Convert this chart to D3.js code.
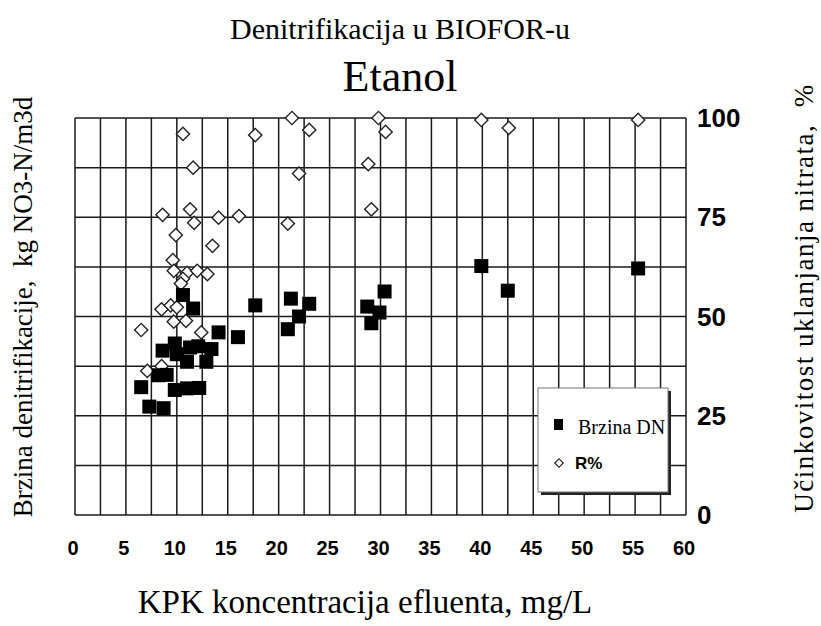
<!DOCTYPE html>
<html>
<head>
<meta charset="utf-8">
<script src="https://cdn.jsdelivr.net/npm/d3@7"></script>
<style>
  body { margin: 0; background: #fff; }
  svg { display: block; }
</style>
</head>
<body>
<script>
// KPK (x) and removal efficiency R% (diamonds, right axis)
const rX = [10.6, 11.6, 17.7, 21.3, 23.0, 22.0, 29.8, 30.5, 28.8, 29.1, 20.9, 39.9, 42.6, 55.3,
  8.6, 11.3, 11.7, 14.1, 16.1, 9.9, 13.5, 9.6, 9.7, 11.0, 12.0, 13.0, 10.6, 10.4,
  8.5, 9.4, 10.0, 9.7, 10.9, 6.5, 12.4, 7.1, 8.5];
const rY = [96, 87.5, 95.7, 100, 97, 86, 100, 96.5, 88.4, 77, 73.4, 99.5, 97.5, 99.5,
  75.6, 77, 73.6, 74.9, 75.3, 70.5, 67.8, 64.2, 61.5, 61, 61.5, 60.7, 59.5, 58.3,
  51.8, 52.8, 52.3, 48.7, 48.9, 46.6, 46, 36.3, 37.5];

// KPK (x) and denitrification rate (filled squares, same grid)
const dnX = [10.6, 11.6, 17.7, 21.2, 23.0, 22.0, 20.9, 28.7, 29.9, 29.1, 30.4, 39.9, 42.5, 55.3,
  14.1, 16.0, 9.8, 8.6, 10.0, 11.3, 12.1, 13.4, 12.9, 11.0, 9.0, 8.2, 6.5, 9.8, 11.0, 12.2, 7.3, 8.7];
const dnY = [55.4, 52, 52.8, 54.5, 53.2, 50, 46.8, 52.5, 51, 48.3, 56.3, 62.7, 56.5, 62.1,
  46, 44.8, 43.2, 41.4, 40.5, 42.2, 42.5, 41.8, 38.6, 38.6, 35.3, 35.2, 32.2, 31.5, 31.9, 32, 27.3, 26.9];

const xTicks = [0, 5, 10, 15, 20, 25, 30, 35, 40, 45, 50, 55, 60];
const yTicks = [0, 25, 50, 75, 100];

const SERIF = "Liberation Serif";
const SANS = "Liberation Sans";

const W = 821, H = 626;
const svg = d3.select("body").append("svg").attr("width", W).attr("height", H);

const x = d3.scaleLinear().domain([0, 60]).range([75, 686]);
const y = d3.scaleLinear().domain([0, 100]).range([515, 118]);

// grid
const grid = svg.append("g").attr("stroke", "#1a1a1a").attr("stroke-width", 1.5);
grid.selectAll("line.v")
  .data(d3.range(0, 60.1, 2.5))
  .enter().append("line")
  .attr("x1", d => x(d)).attr("x2", d => x(d))
  .attr("y1", y(0)).attr("y2", y(100));
grid.selectAll("line.h")
  .data(d3.range(0, 100.1, 12.5))
  .enter().append("line")
  .attr("x1", x(0)).attr("x2", x(60))
  .attr("y1", d => y(d)).attr("y2", d => y(d));

// x tick labels
svg.append("g").selectAll("text")
  .data(xTicks).enter().append("text")
  .attr("font-family", SANS).attr("font-weight", "bold")
  .attr("font-size", 20)
  .attr("x", d => x(d) - 2)
  .attr("y", 555)
  .attr("text-anchor", "middle")
  .text(d => d);

// right tick labels
svg.append("g").selectAll("text")
  .data(yTicks).enter().append("text")
  .attr("font-family", SANS).attr("font-weight", "bold")
  .attr("font-size", 26)
  .attr("x", 697)
  .attr("y", d => y(d) + 9)
  .text(d => d);

// diamonds (R%)
const diamond = d3.symbol().type(d3.symbolSquare).size(88);
svg.append("g").selectAll("path")
  .data(d3.zip(rX, rY)).enter().append("path")
  .attr("d", diamond)
  .attr("transform", d => `translate(${x(d[0])},${y(d[1])}) rotate(45)`)
  .attr("fill", "#fff")
  .attr("stroke", "#222")
  .attr("stroke-width", 1.4);

// squares (Brzina DN)
svg.append("g").selectAll("rect")
  .data(d3.zip(dnX, dnY)).enter().append("rect")
  .attr("x", d => x(d[0]) - 7)
  .attr("y", d => y(d[1]) - 7)
  .attr("width", 14)
  .attr("height", 14)
  .attr("fill", "#000");

// legend
const lg = svg.append("g");
lg.append("rect").attr("x", 541).attr("y", 391).attr("width", 130).attr("height", 104).attr("fill", "#222");
lg.append("rect").attr("x", 538).attr("y", 388).attr("width", 130).attr("height", 104)
  .attr("fill", "#fff").attr("stroke", "#777").attr("stroke-width", 1);
lg.append("rect").attr("x", 554).attr("y", 419).attr("width", 9).attr("height", 11).attr("fill", "#000");
lg.append("text").attr("font-family", SERIF).attr("font-size", 20)
  .attr("x", 578).attr("y", 434).text("Brzina DN");
lg.append("path")
  .attr("d", d3.symbol().type(d3.symbolSquare).size(36))
  .attr("transform", "translate(559,463) rotate(45)")
  .attr("fill", "#fff").attr("stroke", "#222").attr("stroke-width", 1.2);
lg.append("text").attr("font-family", SANS).attr("font-weight", "bold").attr("font-size", 17)
  .attr("x", 575).attr("y", 469).text("R%");

// titles
function serifText(txt, size) {
  return svg.append("text")
    .attr("font-family", SERIF)
    .attr("font-size", size)
    .attr("text-anchor", "middle")
    .style("white-space", "pre")
    .text(txt);
}
serifText("Denitrifikacija u BIOFOR-u", 30).attr("x", 400).attr("y", 39);
serifText("Etanol", 44).attr("x", 400).attr("y", 91);
serifText("KPK koncentracija efluenta, mg/L", 33).attr("x", 365).attr("y", 613);
serifText("Brzina denitrifikacije,  kg NO3-N/m3d", 27)
  .attr("transform", "translate(32,307) rotate(-90)");
serifText("Učinkovitost uklanjanja nitrata,  %", 27)
  .style("letter-spacing", "1.5px")
  .attr("transform", "translate(813,298) rotate(-90)");
</script>
</body>
</html>
